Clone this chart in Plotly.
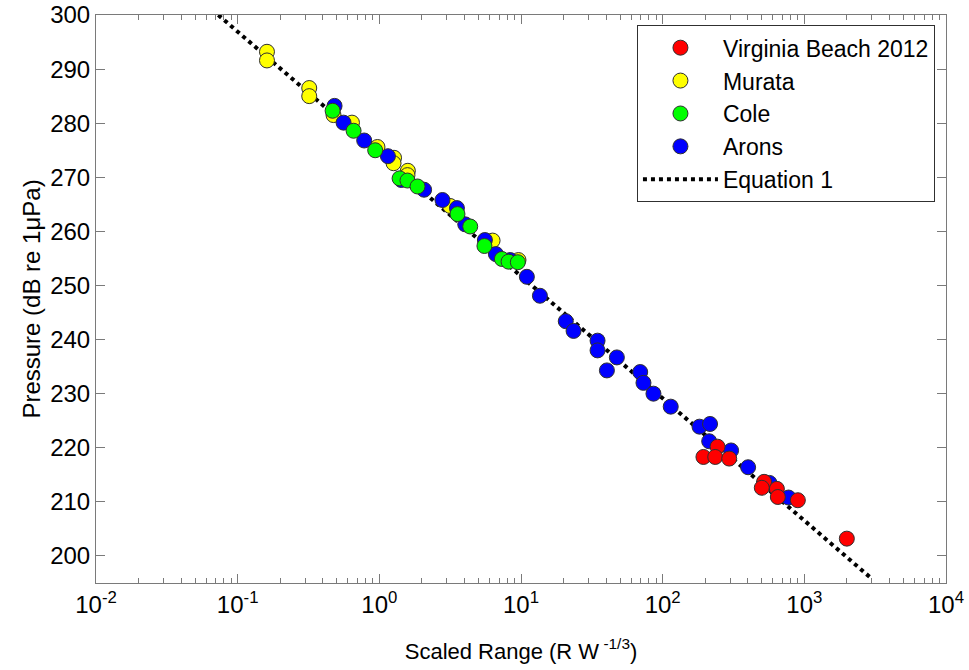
import plotly.graph_objects as go

# ---------------- data ----------------
vb_x = [244, 194, 235, 295, 520, 501, 640, 650, 900, 1995]
vb_y = [220.2, 218.3, 218.3, 218.0, 213.7, 212.6, 212.4, 210.9, 210.3, 203.2]

murata_x = [0.161, 0.161, 0.32, 0.32, 0.475, 0.641, 0.97, 1.27, 1.26, 1.59, 1.58, 3.16, 6.3, 9.6]
murata_y = [293.2, 291.6, 286.5, 285.0, 281.5, 280.1, 275.6, 273.6, 272.6, 271.2, 270.4, 264.7, 258.3, 254.7]

cole_x = [0.468, 0.658, 0.935, 1.39, 1.58, 1.86, 3.56, 4.38, 5.52, 7.33, 8.17, 9.5]
cole_y = [282.3, 278.6, 275.0, 269.8, 269.4, 268.3, 263.2, 260.9, 257.3, 254.9, 254.4, 254.3]

arons_x = [0.483, 0.559, 0.782, 1.15, 1.43, 2.07, 2.79, 3.53, 4.04, 5.56, 6.65, 8.39,
           11.0, 13.6, 20.7, 23.5, 34.7, 34.7, 47.5, 40.4, 69.4, 73.2, 86.1, 114,
           182, 216, 213, 304, 401, 567, 773]
arons_y = [283.2, 280.1, 276.8, 273.9, 269.5, 267.7, 265.8, 264.3, 261.3, 258.4, 255.8, 254.7,
           251.6, 248.1, 243.4, 241.6, 239.8, 238.0, 236.7, 234.3, 234.0, 232.0, 230.0, 227.6,
           223.9, 224.4, 221.2, 219.5, 216.4, 213.5, 210.8]

eq_x = [0.073, 3020]
eq_y = [300.0, 195.7]

x_tickvals = [1e-2, 1e-1, 1e0, 1e1, 1e2, 1e3, 1e4]
x_ticktext = ["10<sup>-2</sup>", "10<sup>-1</sup>", "10<sup>0</sup>", "10<sup>1</sup>",
              "10<sup>2</sup>", "10<sup>3</sup>", "10<sup>4</sup>"]
y_tickvals = [200, 210, 220, 230, 240, 250, 260, 270, 280, 290, 300]

FONT = "Liberation Sans, Arial, sans-serif"
edge = dict(color="#303030", width=1)
msize = 15

fig = go.Figure()
fig.add_trace(go.Scatter(x=eq_x, y=eq_y, mode="lines", name="Equation 1",
                         line=dict(color="black", width=4, dash="dot"), legendrank=5))
fig.add_trace(go.Scatter(x=murata_x, y=murata_y, mode="markers", name="Murata",
                         marker=dict(color="#ffff00", size=msize, line=edge), legendrank=2))
fig.add_trace(go.Scatter(x=arons_x, y=arons_y, mode="markers", name="Arons",
                         marker=dict(color="#0000ff", size=msize, line=edge), legendrank=4))
fig.add_trace(go.Scatter(x=cole_x, y=cole_y, mode="markers", name="Cole",
                         marker=dict(color="#00ff00", size=msize, line=edge), legendrank=3))
fig.add_trace(go.Scatter(x=vb_x, y=vb_y, mode="markers", name="Virginia Beach 2012",
                         marker=dict(color="#ff0000", size=msize, line=edge), legendrank=1))

axis_common = dict(showgrid=False, zeroline=False, showline=True, linecolor="#7a7a7a",
                   linewidth=1, mirror="allticks", ticks="inside", tickcolor="#7a7a7a",
                   ticklen=9, tickwidth=1, automargin=False,
                   tickfont=dict(family=FONT, size=24, color="black"))

fig.update_layout(
    width=969, height=670,
    margin=dict(l=96, r=23, t=15, b=87),
    paper_bgcolor="white", plot_bgcolor="white",
    font=dict(family=FONT, color="black"),
    xaxis=dict(type="log", range=[-2, 4], tickvals=x_tickvals, ticktext=x_ticktext,
               minor=dict(ticks="inside", ticklen=5, tickcolor="#7a7a7a", dtick="D1", showgrid=False),
               title=dict(text="Scaled Range (R W<sup> -1/3</sup>)", font=dict(family=FONT, size=22),
                          standoff=26),
               **axis_common),
    yaxis=dict(range=[195, 300], tickvals=y_tickvals,
               title=dict(text="Pressure (dB re 1μPa)", font=dict(family=FONT, size=24),
                          standoff=2),
               **axis_common),
    legend=dict(x=0.987, y=0.982, xanchor="right", yanchor="top",
                bgcolor="white", bordercolor="#303030", borderwidth=1,
                font=dict(family=FONT, size=23, color="black"),
                itemwidth=75),
    showlegend=True,
)

fig.write_html("out.html")
